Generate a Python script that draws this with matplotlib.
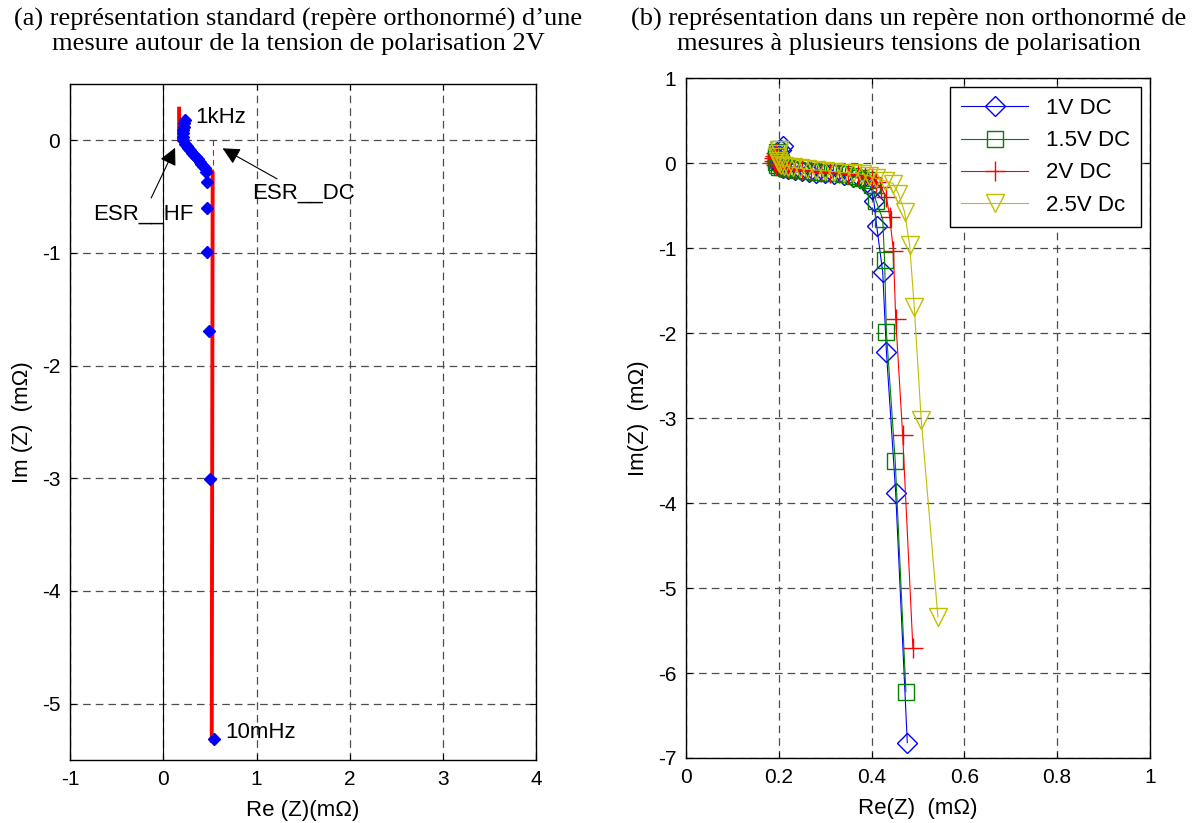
import matplotlib
matplotlib.use("Agg")
import matplotlib.pyplot as plt
import numpy as np

plt.rcParams['font.family'] = ['Liberation Sans', 'DejaVu Sans']
plt.rcParams['lines.scale_dashes'] = False
plt.rcParams['axes.unicode_minus'] = False

# (a) measurement at 2V
a_re = [0.23, 0.225, 0.22, 0.215, 0.21, 0.21, 0.215, 0.23, 0.25, 0.27, 0.29, 0.31, 0.33,
        0.35, 0.37, 0.39, 0.41, 0.43, 0.45, 0.46, 0.47, 0.47, 0.47, 0.49, 0.50, 0.54]
a_im = [0.18, 0.15, 0.12, 0.09, 0.06, 0.03, 0.0, -0.03, -0.05, -0.07, -0.09, -0.11, -0.13,
        -0.15, -0.17, -0.19, -0.21, -0.23, -0.25, -0.28, -0.37, -0.6, -0.99, -1.69, -3.01, -5.31]
# fitted model (red)
fit_re = [0.17, 0.17, 0.53, 0.52]
fit_im = [0.28, 0.0, -0.285, -5.33]
esr_dc = 0.53

# (b) several bias voltages
v_labels = ['1V DC', '1.5V DC', '2V DC', '2.5V Dc']
b1_re = [0.21, 0.205, 0.2, 0.198, 0.197, 0.198, 0.2, 0.205, 0.21, 0.22, 0.235, 0.25, 0.265, 0.28,
         0.3, 0.32, 0.34, 0.36, 0.375, 0.39, 0.4, 0.405, 0.411, 0.424, 0.432, 0.452, 0.477]
b1_im = [0.2, 0.15, 0.1, 0.06, 0.02, -0.01, -0.03, -0.05, -0.06, -0.07, -0.08, -0.09, -0.1, -0.11,
         -0.12, -0.13, -0.14, -0.16, -0.18, -0.22, -0.3, -0.45, -0.74, -1.28, -2.22, -3.88, -6.82]
b2_re = [0.2, 0.197, 0.195, 0.194, 0.194, 0.196, 0.2, 0.207, 0.215, 0.225, 0.24, 0.26, 0.28, 0.3,
         0.32, 0.34, 0.36, 0.375, 0.39, 0.4, 0.41, 0.424, 0.428, 0.432, 0.451, 0.474]
b2_im = [0.17, 0.13, 0.09, 0.05, 0.01, -0.02, -0.04, -0.05, -0.06, -0.07, -0.08, -0.09, -0.1, -0.11,
         -0.12, -0.13, -0.15, -0.17, -0.2, -0.26, -0.45, -0.66, -1.14, -1.99, -3.51, -6.22]
b3_re = [0.195, 0.192, 0.19, 0.19, 0.191, 0.194, 0.2, 0.21, 0.22, 0.235, 0.25, 0.27, 0.29, 0.31,
         0.33, 0.35, 0.37, 0.385, 0.4, 0.41, 0.42, 0.432, 0.439, 0.447, 0.452, 0.467, 0.489]
b3_im = [0.12, 0.09, 0.06, 0.03, 0.0, -0.02, -0.04, -0.05, -0.06, -0.07, -0.08, -0.09, -0.1, -0.11,
         -0.12, -0.13, -0.14, -0.16, -0.18, -0.22, -0.28, -0.4, -0.63, -1.03, -1.83, -3.2, -5.7]
b4_re = [0.2, 0.198, 0.197, 0.198, 0.2, 0.205, 0.212, 0.22, 0.23, 0.245, 0.26, 0.28, 0.3, 0.32,
         0.34, 0.36, 0.38, 0.395, 0.41, 0.43, 0.446, 0.458, 0.471, 0.482, 0.492, 0.507, 0.543]
b4_im = [0.15, 0.11, 0.07, 0.03, 0.0, -0.02, -0.03, -0.04, -0.05, -0.06, -0.07, -0.08, -0.09, -0.1,
         -0.11, -0.12, -0.13, -0.15, -0.18, -0.21, -0.24, -0.36, -0.57, -0.96, -1.69, -3.02, -5.34]

fig = plt.figure(figsize=(12.02, 8.23), dpi=100)
grid_kw = dict(color='0.3', linestyle=(0, (5.5, 3.6)), linewidth=0.9)
FS = 16

def style(ax):
    ax.tick_params(direction='in', top=True, right=True, length=4, labelsize=15, pad=7)
    ax.grid(True, **grid_kw)
    for s in ax.spines.values():
        s.set_linewidth(1.0)

# ---- (a)
ax1 = fig.add_axes([0.0582, 0.0766, 0.388, 0.8215])
ax1.axvline(0, color='k', lw=0.8)
ax1.plot(fit_re, fit_im, color='red', lw=2.8, zorder=3)
ax1.plot([esr_dc, esr_dc], [0, fit_im[2]], color='red', lw=0.8, ls=(0, (4, 3)), zorder=3)
ax1.plot(a_re, a_im, 'D', color='blue', ms=6, zorder=4)
ax1.set_xlim(-1, 4)
ax1.set_ylim(-5.5, 0.5)
ax1.set_xticks(range(-1, 5))
ax1.set_yticks(range(-5, 1))
style(ax1)
ax1.text(0.34, 0.2, '1kHz', fontsize=FS, va='center')
ax1.text(0.66, -5.26, '10mHz', fontsize=FS, va='center')
arr = dict(arrowstyle='-|>', color='k', lw=0.8, mutation_scale=26)
ax1.annotate('ESR__HF', xy=(0.14, -0.045), xytext=(-0.21, -0.56), fontsize=FS,
             ha='center', va='top', arrowprops=arr)
ax1.annotate('ESR__DC', xy=(0.61, -0.06), xytext=(0.95, -0.38), fontsize=FS,
             ha='left', va='top', arrowprops=arr)
ax1.set_xlabel('Re (Z)(m\u03a9)', fontsize=FS, labelpad=8)
ax1.set_ylabel('Im (Z)  (m\u03a9)', fontsize=FS, labelpad=6)

# ---- (b)
ax2 = fig.add_axes([0.5707, 0.079, 0.386, 0.826])
ax2.plot(b1_re, b1_im, '-D', color='blue', mfc='none', ms=10, lw=0.8, label=v_labels[0])
ax2.plot(b2_re, b2_im, '-s', color=(0, 0.5, 0), mfc='none', ms=11, lw=0.8, label=v_labels[1])
ax2.plot(b3_re, b3_im, '-+', color='red', ms=14, lw=0.8, label=v_labels[2])
ax2.plot(b4_re, b4_im, '-v', color=(0.75, 0.75, 0), mfc='none', ms=13, lw=0.8, label=v_labels[3])
ax2.set_xlim(0, 1)
ax2.set_ylim(-7, 1)
ax2.set_xticks([0, 0.2, 0.4, 0.6, 0.8, 1])
ax2.set_xticklabels(['0', '0.2', '0.4', '0.6', '0.8', '1'])
ax2.set_yticks(range(-7, 2))
style(ax2)
leg = ax2.legend(loc='upper right', fontsize=FS, fancybox=False, edgecolor='k',
                 framealpha=1, handlelength=3.0, borderaxespad=0.4, labelspacing=0.5,
                 borderpad=0.5)
leg.get_frame().set_linewidth(1.0)
ax2.set_xlabel('Re(Z)  (m\u03a9)', fontsize=FS, labelpad=8)
ax2.set_ylabel('Im(Z)  (m\u03a9)', fontsize=FS, labelpad=6)

serif = ['Liberation Serif', 'DejaVu Serif']
fig.text(0.248, 0.99, "(a) représentation standard (repère orthonormé) d\u2019une\nmesure autour de la tension de polarisation 2V",
         ha='center', va='top', fontsize=19, family=serif, linespacing=1.1)
fig.text(0.756, 0.99, "(b) représentation dans un repère non orthonormé de\nmesures à plusieurs tensions de polarisation",
         ha='center', va='top', fontsize=19, family=serif, linespacing=1.1)

fig.savefig('out.png', dpi=100)
